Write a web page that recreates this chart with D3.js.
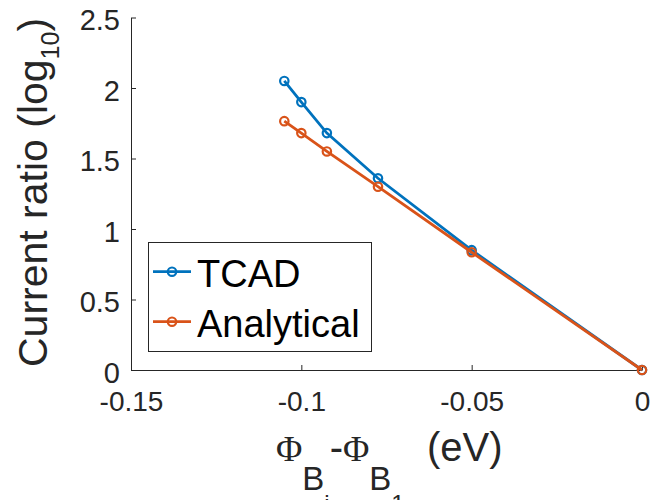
<!DOCTYPE html>
<html>
<head>
<meta charset="utf-8">
<script src="https://cdn.jsdelivr.net/npm/d3@7"></script>
<style>
  body { margin: 0; background: white; }
  text { font-family: "Liberation Sans", Arial, sans-serif; }
</style>
</head>
<body>
<div id="main"></div>
<script>
// data
const xValues = [-0.105, -0.1, -0.0925, -0.0775, -0.05, 0];
const tcadValues = [2.05, 1.9, 1.68, 1.36, 0.85, 0];
const analyticalValues = [1.765, 1.68, 1.55, 1.3, 0.835, 0];
const seriesNames = ["TCAD", "Analytical"];
const xTicks = [-0.15, -0.1, -0.05, 0];
const yTicks = [0, 0.5, 1, 1.5, 2, 2.5];

const ctx = {
    width: 654,
    height: 500,
    left: 131,
    right: 642,
    top: 17.5,
    bottom: 370,
    axisColor: "#262626",
    colors: ["#0072BD", "#D95319"]
};

function createViz(){
    let svg = d3.select("#main").append("svg")
        .attr("width", ctx.width)
        .attr("height", ctx.height);

    let x = d3.scaleLinear().domain([-0.15, 0]).range([ctx.left, ctx.right]);
    let y = d3.scaleLinear().domain([0, 2.5]).range([ctx.bottom, ctx.top]);

    // axes (box off, ticks pointing inwards)
    let xAxis = d3.axisBottom(x).tickValues(xTicks).tickSizeInner(-5).tickSizeOuter(0)
        .tickFormat(d => d === 0 ? "0" : String(d));
    let gx = svg.append("g").attr("transform", "translate(0," + ctx.bottom + ")").call(xAxis);
    gx.select(".domain").attr("stroke", ctx.axisColor);
    gx.selectAll(".tick line").attr("stroke", ctx.axisColor);
    gx.selectAll(".tick text")
        .attr("fill", ctx.axisColor)
        .attr("font-size", "28px")
        .attr("font-family", "Liberation Sans, Arial, sans-serif")
        .attr("y", 0).attr("dy", 0)
        .attr("transform", "translate(0,41)");

    let yAxis = d3.axisLeft(y).tickValues(yTicks).tickSizeInner(-5).tickSizeOuter(0)
        .tickFormat(d => String(d));
    let gy = svg.append("g").attr("transform", "translate(" + ctx.left + ",0)").call(yAxis);
    gy.select(".domain").attr("stroke", ctx.axisColor);
    gy.selectAll(".tick line").attr("stroke", ctx.axisColor);
    gy.selectAll(".tick text")
        .attr("fill", ctx.axisColor)
        .attr("font-size", "29px")
        .attr("font-family", "Liberation Sans, Arial, sans-serif")
        .attr("x", -11)
        .attr("dy", "0.42em");

    // series
    let series = [tcadValues, analyticalValues];
    let line = d3.line().x((d, i) => x(xValues[i])).y(d => y(d));
    series.forEach((vals, k) => {
        let g = svg.append("g");
        g.append("path")
            .datum(vals)
            .attr("d", line)
            .attr("fill", "none")
            .attr("stroke", ctx.colors[k])
            .attr("stroke-width", 2.8);
        g.selectAll("circle")
            .data(vals)
            .enter()
            .append("circle")
            .attr("cx", (d, i) => x(xValues[i]))
            .attr("cy", d => y(d))
            .attr("r", 4.2)
            .attr("fill", "none")
            .attr("stroke", ctx.colors[k])
            .attr("stroke-width", 2.2);
    });

    // legend
    let legend = svg.append("g");
    legend.append("rect")
        .attr("x", 148.5).attr("y", 242.5)
        .attr("width", 223).attr("height", 109)
        .attr("fill", "white")
        .attr("stroke", ctx.axisColor)
        .attr("stroke-width", 1);
    seriesNames.forEach((name, k) => {
        let ly = 271.7 + k * 50;
        legend.append("line")
            .attr("x1", 153).attr("x2", 191)
            .attr("y1", ly).attr("y2", ly)
            .attr("stroke", ctx.colors[k])
            .attr("stroke-width", 2.8);
        legend.append("circle")
            .attr("cx", 172).attr("cy", ly).attr("r", 4.2)
            .attr("fill", "none")
            .attr("stroke", ctx.colors[k])
            .attr("stroke-width", 2.2);
        legend.append("text")
            .attr("x", 197).attr("y", ly + 15)
            .attr("font-size", "38px")
            .attr("fill", "black")
            .text(name);
    });

    // y label
    let ylab = svg.append("text")
        .attr("transform", "translate(47,367) rotate(-90)")
        .attr("font-size", "41px")
        .attr("fill", ctx.axisColor);
    ylab.append("tspan").text("Current ratio (log");
    ylab.append("tspan").attr("font-size", "25px").attr("dy", 12).text("10");
    ylab.append("tspan").attr("dy", -12).text(")");

    // x label
    let xlab = svg.append("text")
        .attr("x", 276).attr("y", 461)
        .attr("font-size", "40px")
        .attr("fill", ctx.axisColor);
    xlab.append("tspan").attr("font-family", "Liberation Serif, serif").attr("font-size", "36px").text("Φ");
    xlab.append("tspan").attr("font-size", "33px").attr("dy", 29).text("B");
    xlab.append("tspan").attr("font-size", "24px").attr("dy", 22).text("i");
    xlab.append("tspan").attr("dy", -51).text("-");
    xlab.append("tspan").attr("font-family", "Liberation Serif, serif").attr("font-size", "36px").text("Φ");
    xlab.append("tspan").attr("font-size", "33px").attr("dy", 29).text("B");
    xlab.append("tspan").attr("font-size", "24px").attr("dy", 22).text("1");
    xlab.append("tspan").attr("dy", -51).text("\u00a0\u00a0(eV)");
}

createViz();
</script>
</body>
</html>
